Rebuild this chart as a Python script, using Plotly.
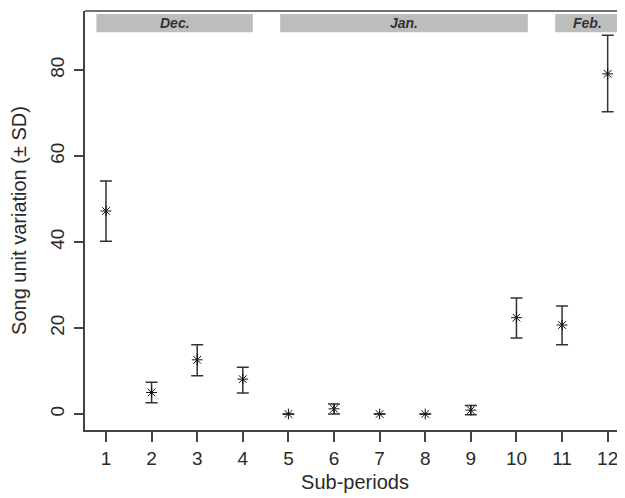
import plotly.graph_objects as go

periods = [1, 2, 3, 4, 5, 6, 7, 8, 9, 10, 11, 12]
means = [47.2, 5.0, 12.6, 8.1, 0.0, 1.2, 0.0, 0.0, 0.9, 22.4, 20.7, 79.1]
upper = [54.2, 7.4, 16.1, 10.9, 0.0, 2.3, 0.0, 0.0, 2.0, 27.0, 25.1, 88.1]
lower = [40.2, 2.6, 8.9, 4.9, 0.0, 0.0, 0.0, 0.0, -0.2, 17.7, 16.1, 70.3]

months = ["Dec.", "Jan.", "Feb."]
month_start = [0.79, 4.82, 10.85]
month_end = [4.22, 10.25, 12.28]

err_plus = [u - m for u, m in zip(upper, means)]
err_minus = [m - l for m, l in zip(means, lower)]

font_fam = "Liberation Sans, Arial, sans-serif"

fig = go.Figure()
fig.add_trace(go.Scatter(
    x=periods, y=means, mode="markers",
    marker=dict(symbol="asterisk-open", size=9, color="#111",
                line=dict(color="#111", width=1)),
    error_y=dict(type="data", symmetric=False, array=err_plus, arrayminus=err_minus,
                 color="#333", thickness=1.5, width=6),
    showlegend=False,
))

for name, s, e in zip(months, month_start, month_end):
    fig.add_shape(type="rect", xref="x", yref="y", x0=s, x1=e, y0=88.8, y1=93.0,
                  fillcolor="#bdbdbd", line=dict(width=0), layer="below")
    fig.add_annotation(x=(s + e) / 2, y=90.9, xref="x", yref="y", text="<b><i>" + name + "</i></b>",
                       showarrow=False, font=dict(family=font_fam, size=14, color="#333"))

fig.add_shape(type="line", xref="paper", yref="paper", x0=0, x1=1, y0=1, y1=1,
              line=dict(color="#444", width=1.5))

fig.update_layout(
    width=625, height=498,
    margin=dict(l=77, r=8, t=3, b=76),
    paper_bgcolor="white", plot_bgcolor="white",
    font=dict(family=font_fam, size=19, color="#2a2a2a"),
    xaxis=dict(range=[0.54, 12.38], tickmode="array", tickvals=periods,
               ticktext=[str(p) for p in periods],
               showline=True, linecolor="#444", linewidth=1.5,
               ticks="outside", ticklen=10, tickcolor="#444", tickwidth=1.5,
               ticklabelstandoff=0,
               showgrid=False, zeroline=False,
               title=dict(text="Sub-periods", font=dict(size=20), standoff=7)),
    yaxis=dict(range=[-3.72, 93.72], tickmode="array", tickvals=[0, 20, 40, 60, 80],
               tickangle=-90,
               showline=True, linecolor="#444", linewidth=1.5,
               ticks="outside", ticklen=9, tickcolor="#444", tickwidth=1.5,
               ticklabelstandoff=3,
               showgrid=False, zeroline=False,
               title=dict(text="Song unit variation (± SD)", font=dict(size=20), standoff=19)),
)

fig.write_html("out.html")
